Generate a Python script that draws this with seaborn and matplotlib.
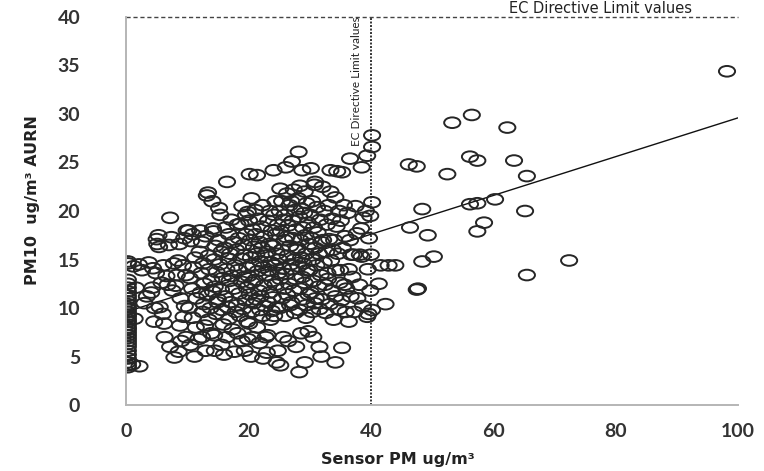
import numpy as np
import matplotlib
matplotlib.use("Agg")
import matplotlib.pyplot as plt
import seaborn as sns
from matplotlib.path import Path

# sensor reads 0 but AURN has a value
zero_aurn = [14.8, 14.6, 12.9, 12.5, 12.1, 11.7, 11.3, 11.0, 10.7, 10.4, 10.1, 9.9, 9.6,
             9.3, 9.1, 8.8, 8.6, 8.3, 8.0, 7.8, 7.5, 7.2, 6.9, 6.6, 6.3, 6.0, 5.6, 5.2,
             4.8, 4.4, 4.1, 3.9]

low_pairs = [(1.2, 14.3), (2.1, 14.5), (2.6, 13.9), (1.0, 4.2), (2.2, 4.0), (1.4, 8.9), (1.6, 12.1),
             (3.4, 11.2), (4.1, 11.6), (4.4, 14.1), (4.9, 13.6), (3.7, 14.7), (4.3, 12.1), (5.0, 17.1),
             (5.3, 17.5), (5.1, 16.6), (4.7, 10.0), (4.6, 8.6), (5.4, 16.3), (6.1, 14.4), (6.6, 13.3),
             (7.2, 19.3), (7.4, 17.3), (7.0, 16.5), (6.2, 8.4), (5.5, 10.1), (6.8, 12.4), (7.6, 11.8),
             (7.8, 14.6), (8.3, 13.4), (8.5, 14.9), (8.1, 12.3), (8.9, 11.0), (9.3, 14.4), (9.6, 10.2),
             (9.8, 13.4), (7.2, 6.0), (7.9, 4.9), (8.6, 5.5), (9.0, 6.6), (9.8, 7.0), (8.8, 8.2),
             (9.4, 9.1), (6.3, 7.0), (6.0, 9.4), (9.5, 17.2), (8.7, 16.6), (9.9, 18.0), (3.0, 10.5),
             (5.8, 12.6)]

mid_pairs = [(10.2, 18.0), (10.6, 16.9), (10.9, 17.6), (11.3, 15.2), (11.0, 14.2), (10.4, 13.1), (10.8, 12.0),
             (11.5, 11.0), (10.3, 10.0), (10.9, 9.0), (11.4, 8.0), (10.5, 6.2), (11.2, 5.0), (11.8, 6.8),
             (12.1, 18.0), (12.4, 16.8), (12.0, 15.8), (12.6, 14.6), (12.3, 13.6), (12.8, 12.5), (12.2, 11.6),
             (12.7, 10.4), (12.5, 9.6), (12.9, 8.2), (12.4, 7.0), (13.0, 5.6), (13.0, 17.4), (13.2, 21.6),
             (13.4, 21.9), (13.5, 15.4), (13.6, 14.0), (13.9, 12.9), (13.3, 11.3), (13.8, 10.0), (13.5, 8.8),
             (13.9, 7.4), (14.2, 18.2), (14.3, 17.9), (14.1, 21.0), (14.6, 16.4), (14.4, 15.0), (14.8, 13.7),
             (14.5, 12.2), (14.2, 11.7), (14.9, 10.6), (14.7, 9.4), (14.4, 7.2), (14.5, 5.6), (15.2, 20.3),
             (15.4, 19.6), (15.1, 17.0), (15.6, 15.8), (15.3, 14.5), (15.8, 13.1), (15.5, 11.9), (15.0, 10.9),
             (15.7, 9.8), (15.9, 8.3), (15.6, 6.2), (16.0, 5.2), (16.5, 23.0), (16.3, 18.3), (16.8, 17.6),
             (16.1, 16.2), (16.7, 15.1), (16.4, 14.0), (16.9, 12.8), (16.2, 11.2), (16.6, 10.1), (16.8, 8.9),
             (16.4, 7.0), (17.2, 19.1), (17.5, 16.8), (17.0, 15.6), (17.8, 14.4), (17.3, 13.3), (17.6, 12.0),
             (17.1, 10.6), (17.9, 9.6), (17.4, 7.8), (17.7, 5.5), (18.2, 18.6), (18.7, 18.7), (18.4, 17.2),
             (18.0, 16.0), (18.8, 15.1), (18.3, 13.9), (18.9, 12.7), (18.5, 11.5), (18.1, 10.3), (18.6, 9.2),
             (18.2, 7.4), (18.9, 6.6), (19.2, 16.5), (19.6, 19.6), (19.9, 19.9), (19.4, 15.5), (19.8, 14.2),
             (19.3, 13.2), (19.7, 12.1), (19.5, 10.8), (19.1, 9.9), (19.8, 8.6), (19.4, 5.6), (19.9, 6.8),
             (19.0, 20.5), (19.6, 17.6)]

dense_pairs = [(20.2, 23.8), (20.5, 21.3), (20.1, 19.0), (20.7, 18.1), (20.3, 17.0), (20.9, 16.3), (20.4, 15.2),
               (20.8, 14.4), (20.0, 13.3), (20.6, 12.6), (20.2, 11.4), (20.9, 10.5), (20.5, 9.6), (20.1, 8.4),
               (20.7, 7.0), (20.4, 5.0), (21.1, 20.1), (21.4, 23.7), (21.6, 19.2), (21.2, 17.6), (21.8, 16.8),
               (21.3, 15.6), (21.9, 14.8), (21.5, 13.8), (21.1, 12.9), (21.7, 11.8), (21.3, 10.9), (21.9, 9.8),
               (21.4, 8.0), (21.8, 6.4), (22.3, 20.6), (22.1, 18.4), (22.6, 17.4), (22.2, 16.2), (22.8, 15.4),
               (22.4, 14.2), (22.9, 13.4), (22.5, 12.3), (22.0, 11.2), (22.7, 10.2), (22.3, 9.2), (22.8, 7.0),
               (22.4, 4.8), (23.0, 5.4), (23.5, 20.0), (23.2, 19.0), (23.8, 18.0), (23.4, 16.6), (23.1, 15.8),
               (23.7, 14.7), (23.3, 13.9), (23.9, 12.8), (23.5, 11.6), (23.2, 10.6), (23.8, 9.7), (23.6, 8.8),
               (23.1, 7.2), (24.1, 24.2), (24.4, 21.0), (24.2, 19.6), (24.8, 18.6), (24.5, 17.6), (24.0, 16.4),
               (24.6, 15.6), (24.3, 14.4), (24.9, 13.6), (24.4, 12.4), (24.0, 11.1), (24.7, 10.1), (24.2, 9.2),
               (24.8, 5.6), (24.6, 4.4), (25.2, 22.3), (25.5, 21.0), (25.1, 20.0), (25.7, 19.1), (25.3, 17.9),
               (25.9, 17.0), (25.4, 16.0), (25.0, 15.0), (25.6, 14.1), (25.2, 13.0), (25.8, 12.0), (25.5, 11.0),
               (25.1, 10.0), (25.7, 7.0), (25.2, 4.1), (26.1, 24.5), (26.3, 21.8), (26.7, 20.6), (26.0, 19.6),
               (26.5, 18.5), (26.2, 17.3), (26.8, 16.4), (26.4, 15.4), (26.9, 14.5), (26.1, 13.5), (26.6, 12.5),
               (26.3, 11.4), (26.8, 10.3), (26.0, 9.2), (26.5, 6.6), (27.1, 25.1), (27.4, 22.2), (27.0, 21.0),
               (27.6, 20.1), (27.2, 19.0), (27.8, 18.1), (27.3, 17.2), (27.9, 16.0), (27.5, 15.0), (27.1, 14.0),
               (27.7, 13.0), (27.4, 11.8), (27.0, 10.6), (27.6, 9.5), (27.8, 6.0), (28.2, 26.1), (28.8, 24.2),
               (28.4, 22.6), (28.1, 21.3), (28.7, 20.2), (28.3, 19.4), (28.9, 18.3), (28.5, 17.0), (28.0, 16.2),
               (28.6, 15.2), (28.2, 14.3), (28.8, 13.2), (28.4, 12.0), (28.9, 10.9), (28.3, 9.8), (28.3, 3.4),
               (28.6, 7.4), (29.2, 22.0), (29.5, 20.8), (29.1, 19.8), (29.7, 18.8), (29.3, 17.5), (29.9, 16.6),
               (29.4, 15.6), (29.0, 14.6), (29.6, 13.9), (29.2, 12.6), (29.8, 11.4), (29.5, 10.3), (29.2, 4.4),
               (29.8, 7.6), (29.4, 9.0)]

upper_pairs = [(30.2, 24.4), (30.9, 23.0), (30.8, 22.7), (30.4, 21.0), (30.1, 19.6), (30.7, 18.3), (30.3, 17.2),
               (30.9, 16.2), (30.5, 15.0), (30.0, 13.9), (30.6, 12.8), (30.2, 11.6), (30.8, 10.5), (30.4, 9.6),
               (30.6, 7.0), (31.6, 6.0), (31.9, 5.0), (31.2, 20.4), (31.7, 19.1), (31.3, 17.8), (31.9, 16.8),
               (31.5, 15.6), (31.1, 14.4), (31.8, 13.4), (31.4, 12.2), (31.0, 11.0), (31.6, 9.9), (32.1, 22.5),
               (32.4, 20.0), (32.8, 18.6), (32.2, 17.0), (32.7, 15.8), (32.3, 14.7), (32.9, 13.6), (32.5, 12.4),
               (32.0, 10.9), (32.6, 9.5), (33.4, 24.2), (33.4, 22.0), (33.1, 20.6), (33.7, 19.2), (33.2, 17.1),
               (33.8, 16.0), (33.5, 14.9), (33.0, 13.0), (33.6, 11.8), (33.3, 10.4), (33.9, 8.8), (34.5, 24.1),
               (34.2, 21.4), (34.8, 20.0), (34.4, 18.4), (34.0, 17.0), (34.6, 15.6), (34.3, 13.9), (34.9, 12.6),
               (34.2, 11.2), (34.7, 9.9), (34.2, 4.4), (35.3, 24.0), (35.3, 5.9), (35.6, 20.6), (35.1, 19.0),
               (35.8, 17.4), (35.4, 16.2), (35.0, 13.9), (35.7, 12.4), (35.2, 10.8), (35.9, 9.6), (36.6, 25.4),
               (36.6, 17.0), (36.2, 19.8), (36.8, 15.5), (36.4, 14.0), (36.0, 12.0), (36.7, 11.2), (36.4, 8.6),
               (37.2, 15.5), (37.7, 17.7), (37.5, 20.5), (37.0, 13.2), (37.8, 11.0), (37.3, 9.6), (38.2, 15.5),
               (38.5, 15.3), (38.8, 19.3), (38.4, 18.2), (38.1, 12.4), (38.7, 10.2), (38.5, 24.5), (39.4, 25.7),
               (39.2, 20.0), (39.7, 17.2), (39.9, 19.5), (39.5, 14.0), (39.9, 11.8), (39.4, 9.1), (39.6, 9.4),
               (40.0, 15.5)]

high_pairs = [(40.2, 27.8), (40.2, 26.6), (40.2, 20.9), (40.2, 9.8), (41.3, 12.5), (42.4, 10.4), (41.6, 14.4),
              (42.9, 14.4), (44.0, 14.4), (46.2, 24.8), (47.5, 24.6), (48.4, 20.2), (46.4, 18.3), (49.3, 17.5),
              (48.4, 14.8), (50.3, 15.3), (47.5, 11.9), (47.7, 12.0), (52.5, 23.8), (53.3, 29.1), (56.5, 29.9),
              (56.2, 25.6), (57.4, 25.2), (56.2, 20.7), (57.4, 20.8), (60.3, 21.2), (58.5, 18.8), (57.4, 17.9),
              (62.3, 28.6), (63.4, 25.2), (65.5, 23.6), (65.2, 20.0), (65.5, 13.4), (72.4, 14.9), (98.2, 34.4)]

fit_intercept = 9.6
fit_slope = 0.2
ec_limit = 40
x_ticks = [0, 20, 40, 60, 80, 100]
y_ticks = [0, 5, 10, 15, 20, 25, 30, 35, 40]

pairs = [(0.3, v) for v in zero_aurn] + low_pairs + mid_pairs + dense_pairs + upper_pairs + high_pairs
sensor_pm = np.array([p[0] for p in pairs])
aurn_pm10 = np.array([p[1] for p in pairs])

sns.set_style("white")
plt.rcParams['font.family'] = ['DejaVu Sans']

fig = plt.figure(figsize=(7.64, 4.71), dpi=100)
ax = fig.add_axes([0.165, 0.140, 0.801, 0.824])

# squashed ring marker like the original
circ = Path.unit_circle()
ring = Path(circ.vertices * np.array([1.0, 0.66]), circ.codes)

line_x = np.array([0, 100])
sns.lineplot(x=line_x, y=fit_intercept + fit_slope * line_x, ax=ax, color="#111111", lw=1.0, zorder=1)
sns.scatterplot(x=sensor_pm, y=aurn_pm10, ax=ax, marker=ring, s=135, facecolors="none",
                edgecolor="#262626", linewidth=1.4, zorder=2)

ax.axhline(ec_limit, color="#444444", lw=1.0, ls=(0, (3, 2)), zorder=0, clip_on=False)
ax.plot([ec_limit, ec_limit], [0, 40], color="#333333", lw=1.4, ls=(0, (1, 0.8)), zorder=0)

ax.text(77.5, 40.15, "EC Directive Limit values", fontsize=10.5, color="#222222", ha="center", va="bottom")
ax.text(37.6, 33.4, "EC Directive Limit values", fontsize=8.5, color="#222222", rotation=90,
        ha="center", va="center", family="Lato")

ax.set_xlim(0, 100)
ax.set_ylim(0, 40)
ax.set_xticks(x_ticks)
ax.set_yticks(y_ticks)
ax.tick_params(axis="both", length=0, labelsize=14, labelcolor="#333333")
ax.tick_params(axis="y", pad=33)
ax.tick_params(axis="x", pad=13)
for lab in ax.get_xticklabels() + ax.get_yticklabels():
    lab.set_family(["Lato", "DejaVu Sans"])
    lab.set_fontweight("bold")

for side in ["top", "right"]:
    ax.spines[side].set_visible(False)
for side in ["left", "bottom"]:
    ax.spines[side].set_color("#b5b5b5")
    ax.spines[side].set_linewidth(1.4)

ax.set_xlabel("Sensor PM ug/m³", fontsize=11.5, fontweight="bold", color="#222222")
ax.set_ylabel("PM10  ug/m³ AURN", fontsize=11.5, fontweight="bold", color="#222222")
ax.xaxis.set_label_coords(0.444, -0.12)
ax.yaxis.set_label_coords(-0.14, 0.528)

fig.savefig("out.png", dpi=100)
